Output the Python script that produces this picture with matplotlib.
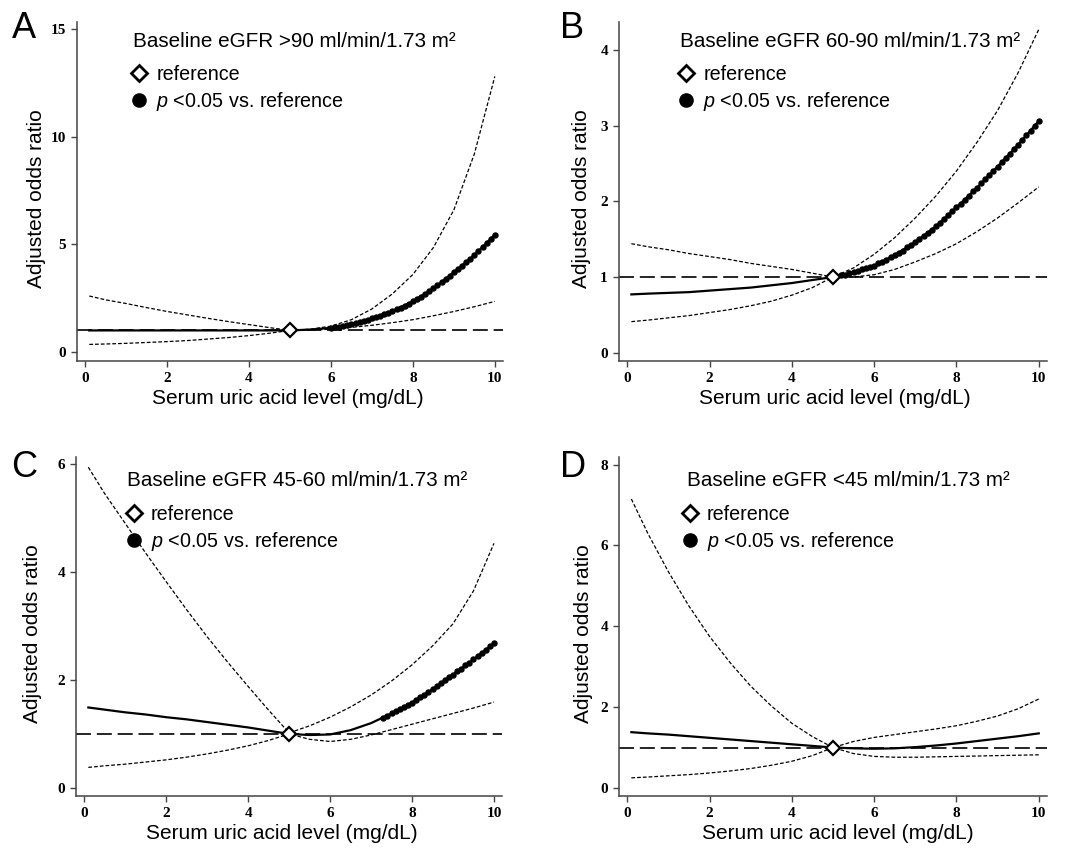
import numpy as np
import matplotlib
matplotlib.use("Agg")
import matplotlib.pyplot as plt
from matplotlib.lines import Line2D

plt.rcParams['font.family'] = ['Liberation Sans', 'DejaVu Sans']
plt.rcParams['mathtext.fontset'] = 'custom'
plt.rcParams['mathtext.it'] = 'Liberation Sans:italic'
plt.rcParams['mathtext.rm'] = 'Liberation Sans'

# serum uric acid grid (mg/dL)
sua = [0.1, 0.5, 1.0, 1.5, 2.0, 2.5, 3.0, 3.5, 4.0, 4.5, 5.0,
       5.5, 6.0, 6.5, 7.0, 7.5, 8.0, 8.5, 9.0, 9.5, 10.0]
ref_sua = 5.0
ref_or = 1.0

# A: eGFR >90
a_or = [1.0, 1.0, 1.0, 1.0, 1.0, 1.0, 1.0, 1.0, 1.0, 1.0, 1.0,
        1.04, 1.12, 1.30, 1.56, 1.90, 2.35, 2.95, 3.70, 4.50, 5.45]
a_lo = [0.35, 0.37, 0.40, 0.44, 0.48, 0.53, 0.60, 0.67, 0.76, 0.87, 1.0,
        1.01, 1.06, 1.14, 1.24, 1.36, 1.50, 1.68, 1.88, 2.10, 2.35]
a_hi = [2.60, 2.42, 2.25, 2.06, 1.88, 1.72, 1.56, 1.41, 1.27, 1.13, 1.0,
        1.06, 1.20, 1.50, 2.00, 2.70, 3.60, 4.85, 6.60, 9.20, 12.8]
a_sig_from = 6.0
a_sig = [1.12, 1.15, 1.18, 1.22, 1.26, 1.30, 1.35, 1.40, 1.45, 1.50,
         1.56, 1.62, 1.69, 1.76, 1.83, 1.90, 1.98, 2.06, 2.15, 2.25,
         2.35, 2.46, 2.57, 2.69, 2.82, 2.95, 3.09, 3.23, 3.38, 3.54,
         3.70, 3.85, 4.01, 4.17, 4.33, 4.50, 4.68, 4.86, 5.05, 5.25, 5.45]

# B: eGFR 60-90
b_or = [0.77, 0.78, 0.79, 0.80, 0.82, 0.84, 0.86, 0.89, 0.92, 0.96, 1.0,
        1.06, 1.15, 1.29, 1.46, 1.67, 1.92, 2.18, 2.46, 2.75, 3.06]
b_lo = [0.41, 0.43, 0.46, 0.49, 0.53, 0.57, 0.62, 0.68, 0.76, 0.86, 1.0,
        1.00, 1.03, 1.10, 1.20, 1.31, 1.44, 1.60, 1.78, 1.98, 2.19]
b_hi = [1.44, 1.40, 1.36, 1.31, 1.27, 1.23, 1.18, 1.14, 1.10, 1.05, 1.0,
        1.12, 1.30, 1.52, 1.78, 2.07, 2.40, 2.78, 3.20, 3.70, 4.27]
b_sig_from = 5.2
b_sig = [1.02, 1.03, 1.05, 1.06, 1.08, 1.10, 1.12, 1.13, 1.15, 1.18,
         1.20, 1.23, 1.26, 1.29, 1.32, 1.35, 1.39, 1.42, 1.46, 1.50,
         1.54, 1.58, 1.62, 1.67, 1.72, 1.77, 1.82, 1.87, 1.92, 1.97,
         2.02, 2.07, 2.13, 2.18, 2.24, 2.29, 2.35, 2.40, 2.46, 2.52,
         2.57, 2.63, 2.69, 2.75, 2.81, 2.87, 2.93, 3.00, 3.06]

# C: eGFR 45-60
c_or = [1.49, 1.45, 1.40, 1.36, 1.31, 1.27, 1.22, 1.17, 1.12, 1.06, 1.0,
        0.98, 0.99, 1.07, 1.20, 1.38, 1.58, 1.83, 2.10, 2.38, 2.68]
c_lo = [0.38, 0.41, 0.44, 0.48, 0.52, 0.57, 0.63, 0.70, 0.78, 0.88, 1.0,
        0.90, 0.86, 0.90, 0.98, 1.08, 1.18, 1.28, 1.38, 1.48, 1.59]
c_hi = [5.94, 5.45, 4.90, 4.35, 3.82, 3.30, 2.80, 2.33, 1.88, 1.44, 1.02,
        1.15, 1.31, 1.50, 1.72, 1.98, 2.28, 2.63, 3.04, 3.65, 4.53]
c_sig_from = 7.3
c_sig = [1.30, 1.34, 1.38, 1.42, 1.46, 1.50, 1.54, 1.58, 1.63, 1.68,
         1.73, 1.78, 1.83, 1.88, 1.94, 1.99, 2.05, 2.10, 2.16, 2.21,
         2.27, 2.32, 2.38, 2.44, 2.50, 2.56, 2.62, 2.68]

# D: eGFR <45
d_or = [1.38, 1.35, 1.32, 1.28, 1.24, 1.20, 1.16, 1.12, 1.08, 1.04, 1.0,
        0.98, 0.97, 0.98, 1.01, 1.05, 1.10, 1.16, 1.22, 1.28, 1.35]
d_lo = [0.25, 0.27, 0.30, 0.33, 0.37, 0.42, 0.48, 0.56, 0.66, 0.80, 1.0,
        0.85, 0.78, 0.76, 0.76, 0.77, 0.78, 0.79, 0.80, 0.81, 0.82]
d_hi = [7.15, 6.30, 5.35, 4.50, 3.75, 3.10, 2.52, 2.03, 1.60, 1.27, 1.0,
        1.15, 1.25, 1.32, 1.39, 1.46, 1.54, 1.65, 1.78, 1.96, 2.20]
d_sig_from = None
d_sig = []

letters = ['A', 'B', 'C', 'D']
titles = ['Baseline eGFR >90 ml/min/1.73 m²',
          'Baseline eGFR 60-90 ml/min/1.73 m²',
          'Baseline eGFR 45-60 ml/min/1.73 m²',
          'Baseline eGFR <45 ml/min/1.73 m²']
yticks = [[0, 5, 10, 15], [0, 1, 2, 3, 4], [0, 2, 4, 6], [0, 2, 4, 6, 8]]
xticks = [0, 2, 4, 6, 8, 10]

panels = [
    (a_or, a_lo, a_hi, a_sig_from, a_sig),
    (b_or, b_lo, b_hi, b_sig_from, b_sig),
    (c_or, c_lo, c_hi, c_sig_from, c_sig),
    (d_or, d_lo, d_hi, d_sig_from, d_sig),
]

# layout (figure fractions), y limits, text placement in axes fractions
rects = [[0.0721, 0.5743, 0.3989, 0.3998],
         [0.5796, 0.5743, 0.4007, 0.3998],
         [0.0712, 0.0613, 0.3990, 0.3998],
         [0.5796, 0.0613, 0.4007, 0.3998]]
ylims = [(-0.42, 15.33), (-0.11, 4.37), (-0.15, 6.13), (-0.2, 8.19)]
title_pos = [(0.131, 0.926), (0.1425, 0.926), (0.12, 0.914), (0.159, 0.914)]
leg_pos = [(0.128, 0.872), (0.139, 0.872), (0.118, 0.858), (0.148, 0.858)]
ylab_x = [-0.072, -0.065, -0.081, -0.06]
xlab_c = [0.495, 0.505, 0.482, 0.512]
letter_pos = [(12, 38), (560, 38), (11, 477), (560, 477)]

fig = plt.figure(figsize=(10.68, 8.48), dpi=100)

for i in range(4):
    y_or, y_lo, y_hi, sig_from, sig = panels[i]
    ax = fig.add_axes(rects[i])

    ax.axhline(ref_or, color='black', lw=1.2, dashes=(9, 3.5), zorder=1)
    ax.plot(sua, y_hi, color='black', lw=0.9, dashes=(3, 1.6), zorder=2)
    ax.plot(sua, y_lo, color='black', lw=0.9, dashes=(3, 1.6), zorder=2)
    ax.plot(sua, y_or, color='black', lw=1.6, zorder=3)
    if sig_from is not None:
        sx = np.round(sig_from + 0.1 * np.arange(len(sig)), 1)
        ax.plot(sx, sig, 'o', color='black', ms=3.6, zorder=4)
    ax.plot([ref_sua], [ref_or], 'D', ms=7, mfc='white', mec='black',
            mew=1.6, zorder=5)

    ax.set_xlim(-0.2, 10.2)
    ax.set_ylim(*ylims[i])
    ax.set_xticks(xticks)
    ax.set_yticks(yticks[i])
    for side in ['top', 'right']:
        ax.spines[side].set_visible(False)
    for side in ['left', 'bottom']:
        ax.spines[side].set_color('#444444')
        ax.spines[side].set_linewidth(1.1)
    ax.tick_params(direction='out', length=4, width=1, color='#444444',
                   pad=4)
    for lab in ax.get_xticklabels() + ax.get_yticklabels():
        lab.set_family('Liberation Serif')
        lab.set_fontweight('bold')
        lab.set_fontsize(11)

    ax.set_ylabel('Adjusted odds ratio', fontsize=15)
    ax.yaxis.set_label_coords(ylab_x[i], 0.48)
    ax.set_xlabel('Serum uric acid level (mg/dL)', fontsize=15)
    ax.xaxis.set_label_coords(xlab_c[i], -0.084)

    ax.text(title_pos[i][0], title_pos[i][1], titles[i], fontsize=14.9,
            transform=ax.transAxes, va='baseline', ha='left')

    handles = [Line2D([], [], marker='D', ls='none', ms=8, mfc='white',
                      mec='black', mew=2),
               Line2D([], [], marker='o', ls='none', ms=9.5, color='black')]
    ax.legend(handles, ['reference', '$\\mathit{p}$ <0.05 vs. reference'],
              loc='upper left', bbox_to_anchor=leg_pos[i], frameon=False,
              fontsize=14.2, borderpad=0, borderaxespad=0, handlelength=0.8,
              handletextpad=0.45, labelspacing=0.28)

    fig.text(letter_pos[i][0] / 1068, 1 - letter_pos[i][1] / 848, letters[i],
             fontsize=26, va='baseline', ha='left')

fig.savefig('out.png', dpi=100)
